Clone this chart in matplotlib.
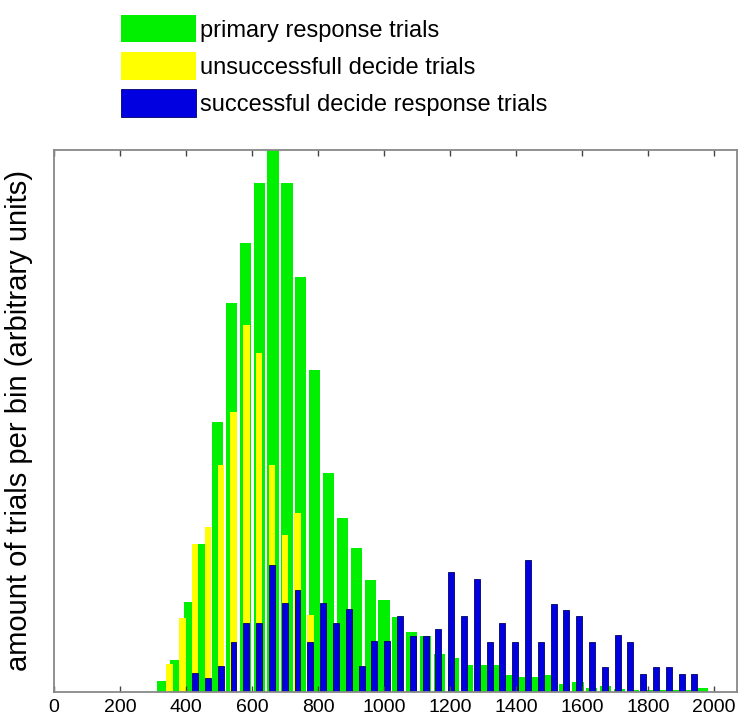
import matplotlib.pyplot as plt

# -------------------------------
# data (bin centres in ms, counts in arbitrary units)
# -------------------------------
primary_bins = [328, 370, 412, 454, 496, 538, 580, 622, 664, 706,
                748, 790, 832, 874, 916, 958, 1000, 1042, 1084, 1126,
                1168, 1210, 1252, 1294, 1336, 1378, 1420, 1462, 1504, 1546,
                1588, 1630, 1672, 1714, 1756, 1798, 1840, 1882, 1924, 1966]
primary_counts = [2.0, 5.9, 16.6, 27.3, 49.8, 71.8, 82.8, 93.9, 100.0, 93.9,
                  76.6, 59.4, 40.4, 32.1, 26.6, 20.7, 17.0, 13.8, 11.1, 10.3,
                  7.0, 6.3, 5.0, 5.0, 5.0, 3.1, 2.8, 2.8, 3.1, 1.5,
                  1.8, 0.7, 1.1, 0.6, 0.4, 0.4, 0.4, 0.4, 0.4, 0.7]

decide_bins = [350, 389, 428, 466, 505, 544, 583, 622, 660, 699,
               738, 777, 816, 854, 893, 932, 971, 1010, 1048, 1087,
               1126, 1165, 1204, 1242, 1281, 1320, 1359, 1398, 1436, 1475,
               1514, 1553, 1592, 1630, 1669, 1708, 1747, 1786, 1824, 1863,
               1902, 1941]
unsuccessful_counts = [5.2, 13.7, 27.3, 30.4, 41.9, 51.7, 67.7, 62.5, 41.9, 29.0,
                       33.0, 14.2, 0, 0, 0, 0, 0, 0, 0, 0,
                       0, 0, 0, 0, 0, 0, 0, 0, 0, 0,
                       0, 0, 0, 0, 0, 0, 0, 0, 0, 0,
                       0, 0]
successful_counts = [0, 0, 3.5, 2.6, 4.8, 9.2, 12.7, 12.7, 23.4, 16.4,
                     18.8, 9.2, 16.4, 12.7, 15.3, 4.8, 9.4, 9.4, 14.0, 10.3,
                     10.3, 11.6, 22.1, 14.0, 20.8, 9.2, 12.7, 9.2, 24.4, 9.2,
                     16.2, 15.1, 14.0, 9.2, 4.6, 10.5, 9.2, 3.3, 4.6, 4.6,
                     3.3, 3.3]

x_ticks = [0, 200, 400, 600, 800, 1000, 1200, 1400, 1600, 1800, 2000]

labels = ["primary response trials",
          "unsuccessfull decide trials",
          "successful decide response trials"]

plt.rcParams['font.family'] = ['Liberation Sans', 'DejaVu Sans']

# -------------------------------
# figure
# -------------------------------
fig = plt.figure(figsize=(7.45, 7.19), dpi=100)
ax = fig.add_axes([0.0725, 0.0376, 0.9168, 0.7538])

h1 = ax.bar(primary_bins, primary_counts, width=34, color='#00f000',
            edgecolor='none', label=labels[0])
h2 = ax.bar(decide_bins, unsuccessful_counts, width=19, color='#ffff00',
            edgecolor='none', label=labels[1])
h3 = ax.bar(decide_bins, successful_counts, width=18, color='#0000e0',
            edgecolor='#000066', linewidth=0.6, label=labels[2])

ax.set_xlim(0, 2070)
ax.set_ylim(0, 100)
ax.set_xticks(x_ticks)
ax.set_xticklabels([str(t) for t in x_ticks], fontsize=14)
ax.set_yticks([])
ax.tick_params(axis='x', direction='in', length=4, width=1, color='#444444',
               top=True, pad=5)
for s in ax.spines.values():
    s.set_color('#888888')
    s.set_linewidth(1.3)

ax.set_ylabel("amount of trials per bin (arbitrary units)", fontsize=21)
ax.yaxis.set_label_coords(-0.031, 0.5)

fig.legend(handles=[h1, h2, h3], labels=labels, loc='upper left',
           bbox_to_anchor=(0.162, 0.979), frameon=False, fontsize=17,
           handlelength=3.2, handleheight=1.4, handletextpad=0.15,
           labelspacing=0.42, borderpad=0, borderaxespad=0)

fig.savefig("out.png", dpi=100)
